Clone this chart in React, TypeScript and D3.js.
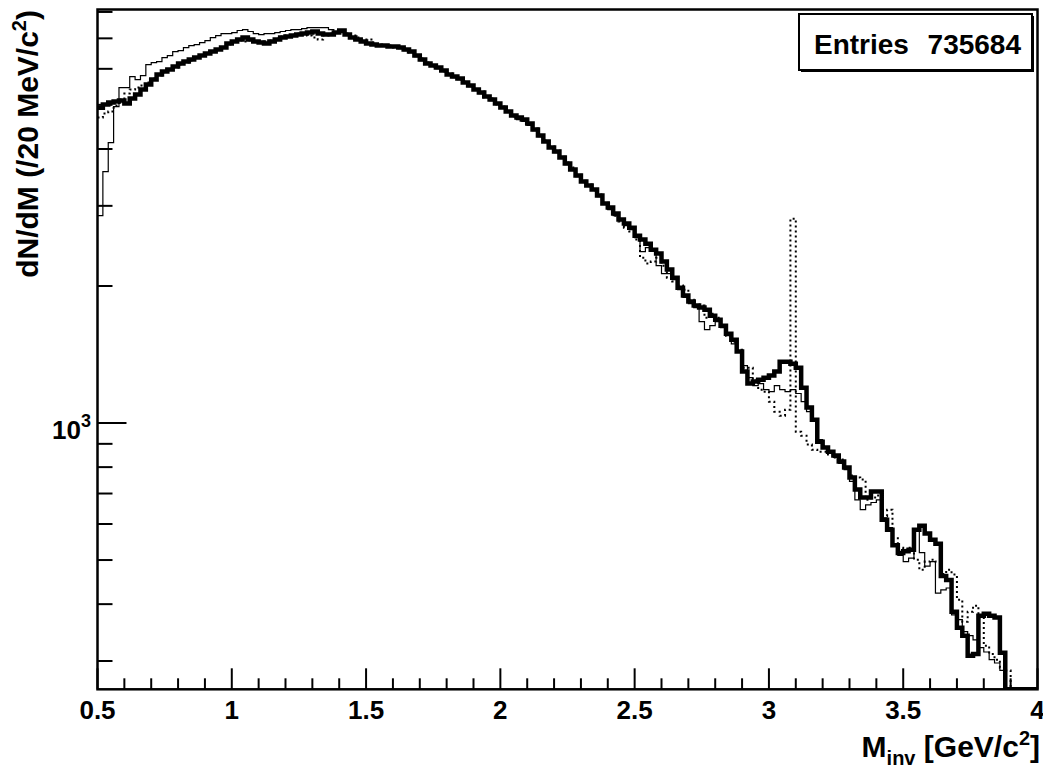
import React from "react";
import * as d3 from "d3";

// Invariant-mass histogram: 175 bins of 20 MeV/c^2 between 0.5 and 4 GeV/c^2
const M_MIN = 0.5;
const M_MAX = 4.0;
const BIN_WIDTH = 0.02;

// Thick solid histogram
const thickCounts = [
  4930, 5010, 5060, 5085, 5110, 5034, 5162, 5267, 5403, 5541,
  5683, 5830, 5920, 5978, 6069, 6162, 6225, 6288, 6352, 6417,
  6481, 6547, 6614, 6681, 6818, 6888, 6958, 7029, 6958, 6888,
  6853, 6818, 6888, 6958, 7029, 7065, 7100, 7136, 7173, 7209,
  7246, 7173, 7136, 7136, 7209, 7283, 7136, 7029, 6958, 6888,
  6818, 6784, 6750, 6750, 6716, 6716, 6681, 6614, 6547, 6417,
  6288, 6162, 6100, 6038, 5948, 5830, 5771, 5712, 5597, 5513,
  5403, 5322, 5215, 5136, 5034, 4932, 4834, 4738, 4690, 4642,
  4549, 4412, 4280, 4153, 4028, 3948, 3829, 3715, 3604, 3496,
  3392, 3325, 3257, 3160, 3034, 2974, 2885, 2798, 2742, 2687,
  2580, 2529, 2478, 2404, 2356, 2263, 2173, 2086, 1983, 1907,
  1849, 1812, 1793, 1774, 1721, 1687, 1636, 1571, 1524, 1435,
  1297, 1221, 1233, 1245, 1258, 1271, 1297, 1364, 1364, 1350,
  1323, 1196, 1081, 1017, 910, 883, 865, 848, 823, 798,
  759, 714, 686, 686, 707, 707, 613, 583, 539, 518,
  523, 527, 583, 595, 572, 554, 543, 461, 452, 385,
  355, 341, 308, 311, 377, 381, 377, 374, 313, 0,
  0, 0, 0, 0, 0,
];

// Thin solid histogram
const thinCounts = [
  2855, 3568, 4132, 4958, 5458, 5458, 5770, 5683, 5800, 6131,
  6193, 6225, 6352, 6417, 6547, 6580, 6681, 6750, 6784, 6853,
  6923, 7029, 7100, 7173, 7173, 7209, 7283, 7317, 7246, 7173,
  7136, 7173, 7173, 7209, 7246, 7283, 7317, 7317, 7354, 7392,
  7392, 7392, 7392, 7317, 7246, 7209, 7136, 7029, 6958, 6888,
  6818, 6784, 6784, 6750, 6750, 6716, 6648, 6580, 6514, 6385,
  6256, 6193, 6100, 6008, 5920, 5860, 5741, 5683, 5597, 5486,
  5430, 5295, 5242, 5110, 5034, 4932, 4810, 4762, 4642, 4596,
  4504, 4390, 4258, 4174, 4028, 3928, 3848, 3697, 3623, 3479,
  3408, 3308, 3257, 3144, 3049, 2943, 2855, 2812, 2715, 2660,
  2554, 2380, 2428, 2392, 2217, 2129, 2129, 2065, 1963, 1888,
  1830, 1793, 1670, 1604, 1636, 1670, 1620, 1555, 1493, 1435,
  1337, 1258, 1208, 1221, 1184, 1172, 1208, 1184, 1172, 1184,
  1161, 1114, 1059, 1012, 919, 883, 857, 840, 815, 790,
  744, 678, 645, 661, 669, 678, 619, 589, 543, 512,
  496, 505, 583, 519, 485, 496, 423, 430, 434, 379,
  370, 348, 341, 334, 321, 314, 302, 297, 286, 0,
  0, 0, 0, 0, 0,
];

// Dotted histogram (with the narrow J/psi peak)
const dottedCounts = [
  4689, 4785, 4834, 4983, 5136, 5295, 5403, 5458, 5513, 5597,
  5712, 5800, 5890, 5978, 6038, 6131, 6193, 6256, 6352, 6417,
  6481, 6547, 6614, 6681, 6784, 6888, 6923, 6888, 6923, 6888,
  6888, 6853, 6923, 6993, 7065, 7100, 7136, 7173, 7136, 7100,
  7029, 6958, 7100, 7173, 7209, 7246, 7173, 7100, 7029, 6958,
  6958, 6853, 6784, 6750, 6750, 6681, 6681, 6614, 6514, 6417,
  6320, 6193, 6069, 6038, 5920, 5860, 5771, 5683, 5626, 5513,
  5403, 5349, 5188, 5162, 5009, 4958, 4834, 4714, 4666, 4619,
  4526, 4434, 4280, 4174, 4049, 3967, 3848, 3734, 3640, 3513,
  3408, 3341, 3241, 3176, 3049, 2958, 2855, 2770, 2687, 2634,
  2529, 2308, 2240, 2263, 2308, 2217, 2086, 2045, 2004, 1963,
  1866, 1821, 1812, 1704, 1738, 1704, 1636, 1555, 1509, 1449,
  1323, 1323, 1245, 1184, 1172, 1114, 1059, 1038, 1070, 2812,
  957, 938, 897, 874, 865, 865, 853, 840, 831, 798,
  767, 759, 751, 678, 686, 693, 625, 645, 558, 532,
  527, 532, 501, 476, 496, 501, 496, 466, 476, 465,
  409, 366, 385, 397, 374, 324, 311, 302, 290, 286,
  0, 0, 0, 0, 0,
];

const xMajorTicks = [0.5, 1, 1.5, 2, 2.5, 3, 3.5, 4];
const xTickLabels = ["0.5", "1", "1.5", "2", "2.5", "3", "3.5", "4"];
const yMinorTicks = [300, 400, 500, 600, 700, 800, 900, 2000, 3000, 4000, 5000, 6000, 7000, 8000];
const yMajorTicks = [1000];
const entries = "735684";

const FONT = "'Liberation Sans', Arial, Helvetica, sans-serif";
const W = 1043;
const H = 766;

const frame = { left: 97.5, right: 1037.5, top: 9.5, bottom: 689.3 };

const x = d3.scaleLinear().domain([M_MIN, M_MAX]).range([frame.left, frame.right]);
const y = d3.scaleLog().domain([260, 8100]).range([frame.bottom, frame.top]).clamp(true);

// Step outline of a histogram: each bin is a flat segment, neighbours joined by verticals
function stepPath(counts: number[]): string {
  const pts: [number, number][] = [];
  counts.forEach((c, i) => {
    const lo = M_MIN + i * BIN_WIDTH;
    const hi = lo + BIN_WIDTH;
    const v = c > 0 ? c : y.domain()[0];
    pts.push([x(lo), y(v)]);
    pts.push([x(hi), y(v)]);
  });
  return d3.line()(pts) || "";
}

const xMinorTicks = d3
  .range(5, 41)
  .map((k) => k / 10)
  .filter((t) => !xMajorTicks.some((m) => Math.abs(m - t) < 1e-9));

export default function App() {
  return (
    <svg
      width={W}
      height={H}
      style={{ position: "absolute", left: 0, top: 0, background: "#fff" }}
      fontFamily={FONT}
    >
      <rect x={0} y={0} width={W} height={H} fill="#fff" />
      <defs>
        <clipPath id="plotArea">
          <rect x={frame.left} y={frame.top} width={frame.right - frame.left} height={frame.bottom - frame.top} />
        </clipPath>
      </defs>

      <g clipPath="url(#plotArea)" fill="none" strokeLinejoin="miter">
        <path d={stepPath(thinCounts)} stroke="#000" strokeWidth={1.2} />
        <path d={stepPath(dottedCounts)} stroke="#000" strokeWidth={2} strokeDasharray="2,3" />
        <path d={stepPath(thickCounts)} stroke="#000" strokeWidth={4.5} />
      </g>

      {/* frame */}
      <rect
        x={frame.left}
        y={frame.top}
        width={frame.right - frame.left}
        height={frame.bottom - frame.top}
        fill="none"
        stroke="#000"
        strokeWidth={2.5}
      />

      {/* axis ticks */}
      <g stroke="#000" strokeWidth={2}>
        {xMajorTicks.map((t) => (
          <line key={"xM" + t} x1={x(t)} x2={x(t)} y1={frame.bottom} y2={frame.bottom - 21} />
        ))}
        {xMinorTicks.map((t) => (
          <line key={"xm" + t} x1={x(t)} x2={x(t)} y1={frame.bottom} y2={frame.bottom - 11} />
        ))}
        {yMajorTicks.map((t) => (
          <line key={"yM" + t} x1={frame.left} x2={frame.left + 29} y1={y(t)} y2={y(t)} />
        ))}
        {yMinorTicks.map((t) => (
          <line key={"ym" + t} x1={frame.left} x2={frame.left + 15} y1={y(t)} y2={y(t)} />
        ))}
      </g>

      {/* x tick labels */}
      <g fontSize={26} fontWeight="bold" textAnchor="middle" fill="#000">
        {xMajorTicks.map((t, i) => (
          <text key={"xl" + t} x={x(t)} y={719}>
            {xTickLabels[i]}
          </text>
        ))}
      </g>

      {/* y tick label */}
      {yMajorTicks.map((t) => (
        <text key={"yl" + t} x={91} y={y(t) + 16} textAnchor="end" fontSize={26} fontWeight="bold">
          10
          <tspan dy={-12} fontSize={18}>
            3
          </tspan>
        </text>
      ))}

      {/* axis titles */}
      <text x={1040} y={757} textAnchor="end" fontSize={30} fontWeight="bold">
        M
        <tspan dy={8} fontSize={20}>
          inv
        </tspan>
        <tspan dy={-8}> [GeV/c</tspan>
        <tspan dy={-12} fontSize={20}>
          2
        </tspan>
        <tspan dy={12}>]</tspan>
      </text>
      <text transform="translate(38,10) rotate(-90)" textAnchor="end" fontSize={30} fontWeight="bold">
        dN/dM (/20 MeV/c
        <tspan dy={-12} fontSize={20}>
          2
        </tspan>
        <tspan dy={12}>)</tspan>
      </text>

      {/* statistics box */}
      <rect x={801} y={16} width={233} height={56} fill="#000" />
      <rect x={799} y={14} width={233} height={56} fill="#fff" stroke="#000" strokeWidth={2} />
      <text x={814} y={54} fontSize={28} fontWeight="bold">
        Entries
      </text>
      <text x={1021} y={54} fontSize={28} fontWeight="bold" textAnchor="end">
        {entries}
      </text>
    </svg>
  );
}
